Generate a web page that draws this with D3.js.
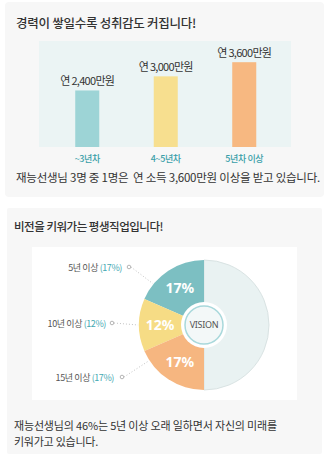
<!DOCTYPE html>
<html>
<head>
<meta charset="utf-8">
<script src="https://cdn.jsdelivr.net/npm/d3@7"></script>
<style>
  html, body { margin: 0; padding: 0; background: #fff; }
  svg { display: block; font-family: "Noto Sans CJK KR", "Noto Sans", sans-serif; }
</style>
</head>
<body>
<svg id="chart" width="329" height="456"></svg>
<script>
// Salary by years of experience
const salaryCategories = ["~3년차", "4~5년차", "5년차 이상"];
const salaryValues = [2400, 3000, 3600];
const salaryLabels = ["연 2,400만원", "연 3,000만원", "연 3,600만원"];
const barColors = ["#9dd4d6", "#f7df8f", "#f7b881"];

// Share of teachers by years of service
const tenureCategories = ["5년 이상", "10년 이상", "15년 이상"];
const tenureShares = [17, 12, 17];
const tenureColors = ["#7cbfc2", "#f6dc85", "#f6b680"];

const svg = d3.select("#chart");

// set letter-spacing so a line of text spans the given width
function fitWidth(sel, width) {
  const node = sel.node();
  const n = node.getNumberOfChars();
  const w = node.getComputedTextLength();
  sel.attr("letter-spacing", ((width - w) / n).toFixed(3));
  return sel;
}

// ---------- card 1 ----------
svg.append("rect").attr("x", 5).attr("y", 2).attr("width", 319).attr("height", 195)
  .attr("rx", 4).attr("fill", "#f7f7f7");
fitWidth(svg.append("text").attr("x", 16).attr("y", 28).attr("font-size", 12.5).attr("font-weight", 500)
  .attr("fill", "#333").text("경력이 쌓일수록 성취감도 커집니다!"), 180);

svg.append("rect").attr("x", 39).attr("y", 41).attr("width", 252).attr("height", 106)
  .attr("fill", "#ebf4f4");

const x = d3.scaleBand().domain(salaryCategories).range([48, 283.5])
  .paddingInner(0.694).paddingOuter(0.347);
const y = d3.scaleLinear().domain([0, 4500]).range([147, 41]);

svg.append("g").selectAll("rect").data(salaryValues).join("rect")
  .attr("x", (d, i) => x(salaryCategories[i]))
  .attr("y", d => y(d))
  .attr("width", x.bandwidth())
  .attr("height", d => y(0) - y(d))
  .attr("fill", (d, i) => barColors[i]);

svg.append("g").selectAll("text").data(salaryValues).join("text")
  .attr("x", (d, i) => x(salaryCategories[i]) + x.bandwidth() / 2)
  .attr("y", d => y(d) - 5)
  .attr("text-anchor", "middle").attr("font-size", 11).attr("letter-spacing", -0.7)
  .attr("fill", "#333")
  .text((d, i) => salaryLabels[i]);

const xAxis = svg.append("g").attr("transform", "translate(0,147)")
  .call(d3.axisBottom(x).tickSize(0).tickPadding(9));
xAxis.select(".domain").remove();
xAxis.selectAll("text").attr("font-size", 9).attr("fill", "#3a9fa9")
  .attr("font-family", "Noto Sans CJK KR").attr("font-weight", 500).attr("letter-spacing", -0.4);

fitWidth(svg.append("text").attr("x", 16).attr("y", 182).attr("font-size", 11.5)
  .attr("fill", "#333").attr("xml:space", "preserve")
  .text("재능선생님 3명 중 1명은  연 소득 3,600만원 이상을 받고 있습니다."), 304);

// ---------- card 2 ----------
svg.append("rect").attr("x", 7).attr("y", 208).attr("width", 315).attr("height", 246)
  .attr("rx", 2).attr("fill", "#f7f7f7");
fitWidth(svg.append("text").attr("x", 14).attr("y", 231).attr("font-size", 11.5).attr("font-weight", 500)
  .attr("fill", "#333").text("비전을 키워가는 평생직업입니다!"), 149);

svg.append("rect").attr("x", 32).attr("y", 247).attr("width", 265).attr("height", 153)
  .attr("fill", "#fff");

const cx = 204, cy = 325, R = 65;
const g = svg.append("g").attr("transform", `translate(${cx},${cy})`);

// remaining half
g.append("path")
  .attr("d", d3.arc().innerRadius(0).outerRadius(R).startAngle(0).endAngle(Math.PI)())
  .attr("fill", "#e9f2f2").attr("stroke", "#d9e3e3").attr("stroke-width", 1);

// coloured shares fill the left half, counter-clockwise from 12 o'clock
const pie = d3.pie().sort(null).startAngle(0).endAngle(-Math.PI).value(d => d);
const arcs = pie(tenureShares);
const arc = d3.arc().innerRadius(0).outerRadius(R);
g.selectAll("path.slice").data(arcs).join("path").attr("class", "slice")
  .attr("d", arc).attr("fill", (d, i) => tenureColors[i]);

const labelArc = d3.arc().innerRadius(44).outerRadius(44);
g.selectAll("text.pct").data(arcs).join("text").attr("class", "pct")
  .attr("transform", d => `translate(${labelArc.centroid(d)})`)
  .attr("text-anchor", "middle").attr("dy", "0.36em")
  .attr("font-size", 14).attr("font-weight", 700).attr("fill", "#fff")
  .attr("font-family", "Noto Sans, sans-serif")
  .text(d => d.data + "%");

// centre badge
g.append("circle").attr("r", 23).attr("fill", "#fff");
g.append("circle").attr("r", 19).attr("fill", "#f3f8f8").attr("stroke", "#a8d8db").attr("stroke-width", 1.5);
g.append("text").attr("text-anchor", "middle").attr("dy", "0.36em")
  .attr("font-size", 9).attr("fill", "#555").attr("letter-spacing", -0.3)
  .attr("font-family", "Noto Sans, sans-serif").text("VISION");

// leader labels
const leaders = [
  { tx: 122, ty: 267, dot: [129, 267], angle: -51 },
  { tx: 106, ty: 323, dot: [112, 323], angle: -90 },
  { tx: 114, ty: 377, dot: [122, 377], angle: -123 }
];
leaders.forEach((L, i) => {
  const a = L.angle * Math.PI / 180;
  const ex = cx + (R + 1) * Math.sin(a), ey = cy - (R + 1) * Math.cos(a);
  svg.append("line").attr("x1", L.dot[0] + 2).attr("y1", L.dot[1])
    .attr("x2", ex).attr("y2", ey)
    .attr("stroke", "#c4c4c4").attr("stroke-width", 1).attr("stroke-dasharray", "1,2");
  svg.append("circle").attr("cx", L.dot[0]).attr("cy", L.dot[1]).attr("r", 1.8)
    .attr("fill", "#fff").attr("stroke", "#b5b5b5").attr("stroke-width", 1);
  const t = svg.append("text").attr("x", L.tx).attr("y", L.ty + 3.5)
    .attr("text-anchor", "end").attr("font-size", 9).attr("letter-spacing", -0.4);
  t.append("tspan").attr("fill", "#555").text(tenureCategories[i] + " ");
  t.append("tspan").attr("fill", "#45a9b2").text("(" + tenureShares[i] + "%)");
});

fitWidth(svg.append("text").attr("x", 14).attr("y", 430).attr("font-size", 11).attr("fill", "#333")
  .text("재능선생님의 46%는 5년 이상 오래 일하면서 자신의 미래를"), 263);
fitWidth(svg.append("text").attr("x", 14).attr("y", 446).attr("font-size", 11).attr("fill", "#333")
  .text("키워가고 있습니다."), 84);
</script>
</body>
</html>
